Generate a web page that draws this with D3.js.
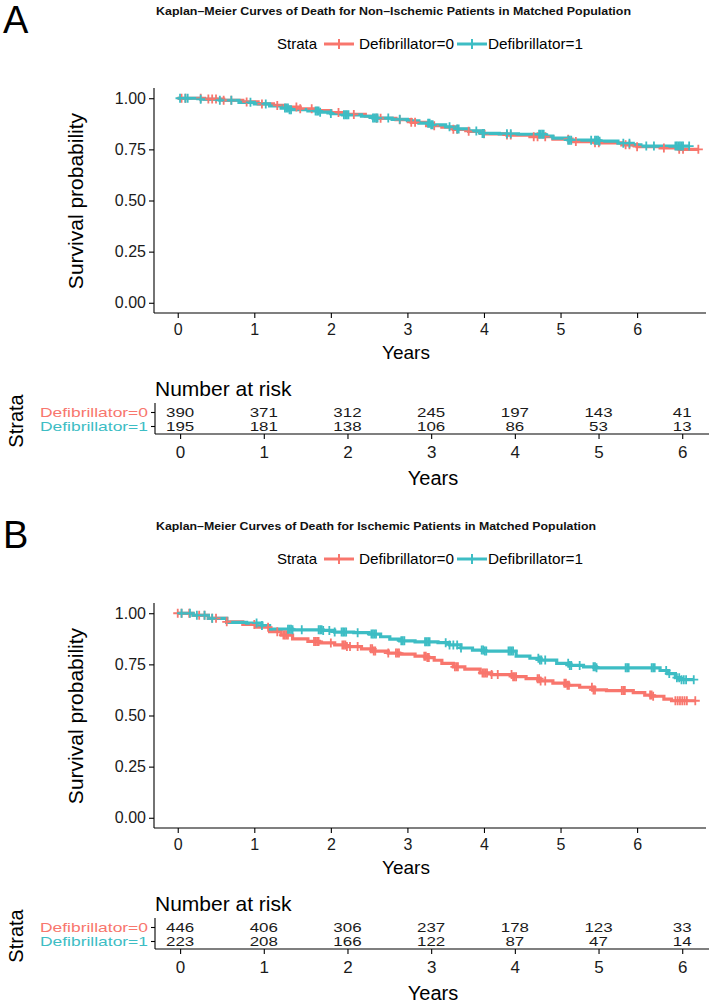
<!DOCTYPE html>
<html><head><meta charset="utf-8">
<script src="https://cdn.jsdelivr.net/npm/d3@7"></script>
<style>
body{margin:0;background:#fff}
svg{display:block}
text{font-family:"Liberation Sans",Arial,Helvetica,sans-serif}
</style>
</head><body>
<svg id="chart" width="709" height="1003"></svg>
<script>
// ---------- data ----------
const panelLetters = ["A", "B"];
const titles = [
  "Kaplan\u2013Meier Curves of Death for Non\u2013Ischemic Patients in Matched Population",
  "Kaplan\u2013Meier Curves of Death for Ischemic Patients in Matched Population"
];
const strata = ["Defibrillator=0", "Defibrillator=1"];
const colors = ["#F8766D", "#3DBDC4"];
const xTicks = [0, 1, 2, 3, 4, 5, 6];
const yTicks = [0, 0.25, 0.5, 0.75, 1];

// Number at risk
const riskA0 = [390, 371, 312, 245, 197, 143, 41];
const riskA1 = [195, 181, 138, 106, 86, 53, 13];
const riskB0 = [446, 406, 306, 237, 178, 123, 33];
const riskB1 = [223, 208, 166, 122, 87, 47, 14];

// KM steps [time (years), survival after step]
const stepsA0 = [[0,1],[0.35,0.996],[0.6,0.99],[0.85,0.982],[1.05,0.972],[1.25,0.965],[1.4,0.957],[1.6,0.948],[1.8,0.94],[2.0,0.93],[2.2,0.921],[2.45,0.912],[2.6,0.902],[2.85,0.895],[3.05,0.882],[3.25,0.866],[3.45,0.858],[3.6,0.848],[3.8,0.838],[4.0,0.826],[4.3,0.82],[4.6,0.812],[4.9,0.8],[5.15,0.788],[5.45,0.782],[5.8,0.772],[6.0,0.763],[6.3,0.757],[6.55,0.75]];
const stepsA1 = [[0,1],[0.3,0.995],[0.55,0.99],[0.8,0.98],[1.0,0.972],[1.2,0.962],[1.35,0.952],[1.45,0.944],[1.7,0.938],[1.85,0.932],[2.0,0.925],[2.15,0.919],[2.4,0.912],[2.55,0.903],[2.8,0.897],[3.0,0.89],[3.15,0.878],[3.3,0.87],[3.5,0.86],[3.65,0.85],[3.8,0.84],[3.95,0.828],[4.2,0.826],[4.45,0.824],[4.8,0.815],[4.9,0.805],[5.1,0.795],[5.5,0.79],[5.75,0.78],[5.95,0.772],[6.05,0.766]];
const stepsB0 = [[0,1],[0.2,0.99],[0.4,0.975],[0.64,0.958],[0.85,0.945],[1.03,0.932],[1.2,0.91],[1.35,0.893],[1.5,0.875],[1.7,0.862],[1.85,0.855],[2.05,0.845],[2.2,0.837],[2.4,0.826],[2.55,0.815],[2.75,0.805],[2.9,0.8],[3.1,0.79],[3.25,0.783],[3.35,0.77],[3.45,0.755],[3.6,0.738],[3.75,0.727],[3.95,0.708],[4.1,0.7],[4.38,0.69],[4.55,0.68],[4.73,0.669],[4.9,0.658],[5.08,0.648],[5.25,0.638],[5.43,0.625],[5.6,0.622],[5.95,0.612],[6.1,0.6],[6.2,0.594],[6.35,0.58],[6.45,0.572]];
const stepsB1 = [[0,1],[0.2,0.99],[0.4,0.975],[0.64,0.955],[0.9,0.952],[1.1,0.94],[1.2,0.922],[1.5,0.919],[1.9,0.916],[2.05,0.908],[2.3,0.905],[2.5,0.898],[2.65,0.885],[2.77,0.873],[2.9,0.865],[3.1,0.86],[3.4,0.856],[3.55,0.845],[3.7,0.83],[3.85,0.82],[4.0,0.815],[4.42,0.79],[4.6,0.78],[4.73,0.771],[4.95,0.755],[5.12,0.745],[5.3,0.738],[5.47,0.733],[6.3,0.72],[6.4,0.705],[6.5,0.685],[6.56,0.675]];
const endA = [6.8, 6.68];
const endB = [6.76, 6.74];

// censoring times
const censA0 = [0.05,0.1,0.3,0.4,0.45,0.5,0.6,0.7,0.9,1.1,1.3,1.55,1.6,1.75,2.1,2.3,2.6,2.65,2.9,3.05,3.1,3.35,3.6,3.65,3.8,4.0,4.3,4.35,4.65,4.7,4.8,5.1,5.2,5.45,5.5,5.85,5.9,6.0,6.35,6.55,6.6,6.8];
const censA1 = [0.03,0.1,0.13,0.3,0.55,0.7,0.95,1.15,1.4,1.42,1.44,1.46,1.48,1.8,1.82,1.84,1.86,2.0,2.17,2.19,2.21,2.23,2.55,2.57,2.59,2.61,2.75,2.9,3.27,3.29,3.31,3.33,3.55,3.65,3.67,3.9,3.98,4.0,4.3,4.35,4.72,4.74,4.76,4.78,5.1,5.12,5.14,5.4,5.45,5.47,5.49,5.51,5.82,5.9,6.12,6.22,6.5,6.52,6.54,6.56,6.58,6.6,6.68];
const censB0 = [0.0,0.05,0.15,0.28,0.35,0.45,0.5,0.64,1.0,1.18,1.3,1.38,1.4,1.42,1.44,1.78,1.8,1.82,1.84,2.0,2.15,2.17,2.19,2.21,2.25,2.35,2.52,2.54,2.56,2.58,2.75,2.85,2.87,2.89,3.22,3.24,3.26,3.28,3.62,3.64,3.66,3.98,4.0,4.02,4.04,4.1,4.18,4.36,4.38,4.4,4.42,4.7,4.72,4.74,4.8,5.05,5.07,5.09,5.11,5.41,5.43,5.45,5.8,5.82,5.84,6.17,6.19,6.21,6.5,6.53,6.56,6.59,6.62,6.65,6.76];
const censB1 = [0.05,0.16,0.25,0.35,0.45,1.03,1.1,1.44,1.46,1.48,1.5,1.62,1.84,1.86,1.88,1.9,1.98,2.05,2.14,2.16,2.18,2.2,2.35,2.53,2.55,2.57,2.59,2.92,2.94,2.96,3.23,3.25,3.27,3.29,3.5,3.55,3.6,3.65,3.7,3.97,3.99,4.01,4.03,4.32,4.34,4.36,4.38,4.71,4.73,4.75,4.8,5.1,5.12,5.14,5.25,5.43,5.45,5.47,5.85,5.87,5.89,6.19,6.21,6.23,6.38,6.42,6.52,6.55,6.58,6.61,6.64,6.74];

// ---------- drawing ----------
const svg = d3.select("#chart");
svg.append("rect").attr("width", 709).attr("height", 1003).attr("fill", "#fff");

function survAt(steps, t) {
  let s = 1;
  for (const [tt, ss] of steps) { if (tt <= t) s = ss; else break; }
  return s;
}

function drawPanel(idx, oy, steps, ends, cens, risks) {
  const g = svg.append("g");

  // panel letter
  g.append("text").attr("x", 3).attr("y", 33 + oy)
    .style("font-size", "38px").style("fill", "#000").text(panelLetters[idx]);

  // title (left-aligned with the panel)
  g.append("text").attr("x", 156).attr("y", 11 + oy).attr("dy", "0.36em")
    .style("font-size", "11.5px").style("font-weight", "bold")
    .style("fill", "#111")
    .attr("textLength", idx === 0 ? 475 : 440).attr("lengthAdjust", "spacingAndGlyphs")
    .text(titles[idx]);

  // legend
  const ly = 44 + oy;
  g.append("text").attr("x", 277).attr("y", ly).attr("dy", "0.36em")
    .style("font-size", "15px").style("fill", "#000").text("Strata");
  const legX = [[324, 359], [457, 488]];
  strata.forEach((s, i) => {
    const [sx, tx] = legX[i];
    g.append("line").attr("x1", sx).attr("x2", sx + 30).attr("y1", ly).attr("y2", ly)
      .attr("stroke", colors[i]).attr("stroke-width", 3);
    g.append("path").attr("d", `M${sx + 15 - 5},${ly}h10M${sx + 15},${ly - 5}v10`)
      .attr("stroke", colors[i]).attr("stroke-width", 2);
    g.append("text").attr("x", tx).attr("y", ly).attr("dy", "0.36em")
      .style("font-size", "15px").style("fill", "#000")
      .attr("textLength", 95).attr("lengthAdjust", "spacingAndGlyphs").text(s);
  });

  // scales
  const x = d3.scaleLinear().domain([-0.31, 6.9]).range([154, 706]);
  const y = d3.scaleLinear().domain([-0.05, 1.05]).range([313 + oy, 88 + oy]);

  // axes
  const ax = g.append("g").attr("transform", `translate(0,${313 + oy})`)
    .call(d3.axisBottom(x).tickValues(xTicks).tickFormat(d3.format("d")).tickSize(5).tickSizeOuter(0).tickPadding(6));
  const ay = g.append("g").attr("transform", `translate(154,0)`)
    .call(d3.axisLeft(y).tickValues(yTicks).tickFormat(d3.format(".2f")).tickSize(5).tickSizeOuter(0).tickPadding(3));
  [ax, ay].forEach(a => {
    a.selectAll("path,line").attr("stroke", "#000").attr("stroke-width", 1.1);
    a.selectAll("text").style("font-size", "16px").style("fill", "#1a1a1a");
  });
  ax.select(".domain").attr("d", `M154,0H706`);
  ay.select(".domain").attr("d", `M0,${88 + oy}V${313 + oy}`);

  g.append("text").attr("x", 406).attr("y", 352 + oy).attr("dy", "0.36em")
    .attr("text-anchor", "middle").style("font-size", "19px").style("fill", "#000").text("Years");
  g.append("text").attr("transform", `translate(83,${201 + oy}) rotate(-90)`)
    .attr("text-anchor", "middle").style("font-size", "21px").style("fill", "#000").text("Survival probability");

  // curves
  const line = d3.line().x(d => x(d[0])).y(d => y(d[1])).curve(d3.curveStepAfter);
  [0, 1].forEach(i => {
    const pts = steps[i].concat([[ends[i], steps[i][steps[i].length - 1][1]]]);
    g.append("path").datum(pts).attr("d", line).attr("fill", "none")
      .attr("stroke", colors[i]).attr("stroke-width", 3.2).attr("stroke-linejoin", "miter");
  });
  [0, 1].forEach(i => {
    g.append("g").selectAll("path").data(cens[i]).join("path")
      .attr("d", t => {
        const cx = x(t), cy = y(survAt(steps[i], t));
        return `M${cx - 4.5},${cy}h9M${cx},${cy - 4.5}v9`;
      })
      .attr("stroke", colors[i]).attr("stroke-width", 1.8).attr("fill", "none");
  });

  // ---- risk table ----
  const xt = d3.scaleLinear().domain([-0.3, 6.32]).range([155, 709]);
  const yr = d3.scalePoint().domain(strata).range([398 + oy, 440 + oy]).padding(1);

  g.append("text").attr("x", 155).attr("y", 388 + oy).attr("dy", "0.36em")
    .style("font-size", "21px").style("fill", "#000").text("Number at risk");
  g.append("text").attr("transform", `translate(23,${421 + oy}) rotate(-90)`)
    .attr("text-anchor", "middle").style("font-size", "20px").style("fill", "#000").text("Strata");

  const tyAx = g.append("g").attr("transform", "translate(155,0)")
    .call(d3.axisLeft(yr).tickSize(4).tickPadding(3));
  tyAx.select(".domain").attr("d", `M0,${403 + oy}V${434 + oy}`);
  tyAx.selectAll("path,line").attr("stroke", "#000").attr("stroke-width", 1.1);
  tyAx.selectAll("text").style("font-size", "13.5px").style("fill", (d, i) => colors[i])
    .attr("dy", "0.36em").attr("textLength", 108).attr("lengthAdjust", "spacingAndGlyphs");

  const txAx = g.append("g").attr("transform", `translate(0,${434 + oy})`)
    .call(d3.axisBottom(xt).tickValues(xTicks).tickFormat(d3.format("d")).tickSize(5).tickSizeOuter(0).tickPadding(7));
  txAx.select(".domain").attr("d", `M155,0H709`);
  txAx.selectAll("path,line").attr("stroke", "#000").attr("stroke-width", 1.1);
  txAx.selectAll("text").style("font-size", "17px").style("fill", "#1a1a1a");

  strata.forEach((s, i) => {
    g.append("g").selectAll("text").data(risks[i]).join("text")
      .attr("x", (d, j) => xt(xTicks[j])).attr("y", yr(s)).attr("dy", "0.36em")
      .attr("text-anchor", "middle").style("font-size", "13.5px").style("fill", "#1a1a1a")
      .attr("textLength", d => String(d).length * 9.4).attr("lengthAdjust", "spacingAndGlyphs")
      .text(d => d);
  });

  g.append("text").attr("x", 433).attr("y", 478 + oy).attr("dy", "0.36em")
    .attr("text-anchor", "middle").style("font-size", "20px").style("fill", "#000").text("Years");
}

drawPanel(0, 0, [stepsA0, stepsA1], endA, [censA0, censA1], [riskA0, riskA1]);
drawPanel(1, 515, [stepsB0, stepsB1], endB, [censB0, censB1], [riskB0, riskB1]);
</script>
</body></html>
